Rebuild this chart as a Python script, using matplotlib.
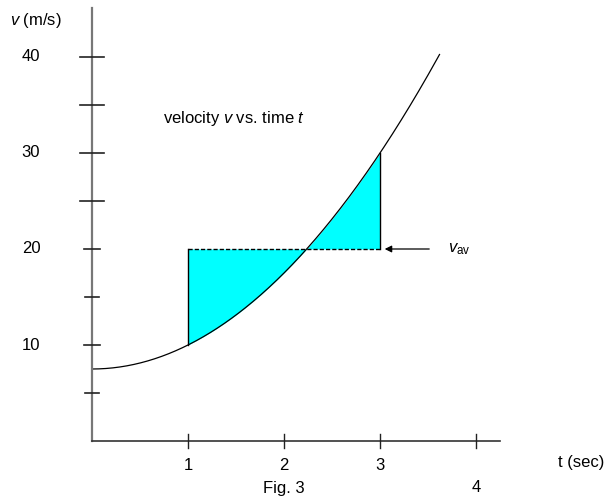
import matplotlib.pyplot as plt
import numpy as np

plt.rcParams['font.family'] = ['Liberation Sans', 'DejaVu Sans']
plt.rcParams['mathtext.fontset'] = 'custom'
plt.rcParams['mathtext.rm'] = 'Liberation Sans'
plt.rcParams['mathtext.it'] = 'Liberation Sans:italic'

# values
v_ticks_major = [10, 20, 30, 40]
v_ticks_minor = [5, 15, 25, 35]
t_ticks = [1, 2, 3, 4]
t_labels = ['1', '2', '3', '4']
v0 = 7.5          # velocity at t = 0
accel = 2.5       # v = v0 + accel * t^2
t_end = 3.62
t_start_avg = 1
t_end_avg = 3
v_av = 20

fig = plt.figure(figsize=(6.12, 4.99), dpi=100)
ax = fig.add_axes([0, 0, 1, 1])
# one data unit in t = 96 px, 10 units in v = 96 px; origin at pixel (92, 441)
ax.set_xlim(-92 / 96, (612 - 92) / 96)
ax.set_ylim(-(499 - 441) / 9.6, 441 / 9.6)
ax.axis('off')

def vel(t):
    return v0 + accel * t ** 2

fs = 12

# axes
ax.plot([0, 0], [0, 45.1], color='#777777', lw=1.6, zorder=3)
ax.plot([0, (500 - 92) / 96], [0, 0], color='#333333', lw=1.2, zorder=3)

for v in v_ticks_major:
    half = 12 / 96 if v > 20 else 8 / 96
    ax.plot([-half, half], [v, v], color='#222222', lw=1.2, zorder=4)
    ax.text(-61 / 96, v, str(v), ha='center', va='center', fontsize=fs)
for v in v_ticks_minor:
    half = 12 / 96 if v > 20 else 7 / 96
    ax.plot([-half, half], [v, v], color='#222222', lw=1.2, zorder=4)

for t, lab in zip(t_ticks, t_labels):
    ax.plot([t, t], [-0.7, 0.7], color='#222222', lw=1.0, zorder=4)
    dy = -47 / 9.6 if lab == '4' else -24 / 9.6
    ax.text(t, dy, lab, ha='center', va='center', fontsize=fs)

# shaded regions between curve and v_av
t_fill = np.linspace(t_start_avg, t_end_avg, 300)
ax.fill_between(t_fill, vel(t_fill), v_av, color='#00ffff', lw=0, zorder=1)
ax.plot([t_start_avg, t_start_avg], [vel(t_start_avg), v_av], color='black', lw=1.0, zorder=2)
ax.plot([t_end_avg, t_end_avg], [v_av, vel(t_end_avg)], color='black', lw=1.0, zorder=2)
ax.plot([t_start_avg, t_end_avg], [v_av, v_av], color='black', lw=1.0,
        ls=(0, (3, 1.5)), zorder=2)

# curve
t_curve = np.linspace(0, t_end, 400)
ax.plot(t_curve, vel(t_curve), color='black', lw=0.9, zorder=2)

# arrow and label
ax.annotate('', xy=(t_end_avg + 0.02, v_av), xytext=(t_end_avg + 52 / 96, v_av),
            arrowprops=dict(arrowstyle='-|>', color='black', lw=0.9,
                            mutation_scale=10))
ax.text(t_end_avg + 68 / 96, v_av, r'$v_{\rm av}$', ha='left', va='center', fontsize=fs)

# texts
ax.text(-82 / 96, 43.8, r'$v$ (m/s)', ha='left', va='center', fontsize=fs)
ax.text(71 / 96, 33.6, r'velocity $v$ vs. time $t$', ha='left', va='center', fontsize=fs)
ax.text(2, -47 / 9.6, 'Fig. 3', ha='center', va='center', fontsize=fs)
ax.text((581 - 92) / 96, -21 / 9.6, 't (sec)', ha='center', va='center', fontsize=fs)

fig.savefig('out.png', dpi=100)
